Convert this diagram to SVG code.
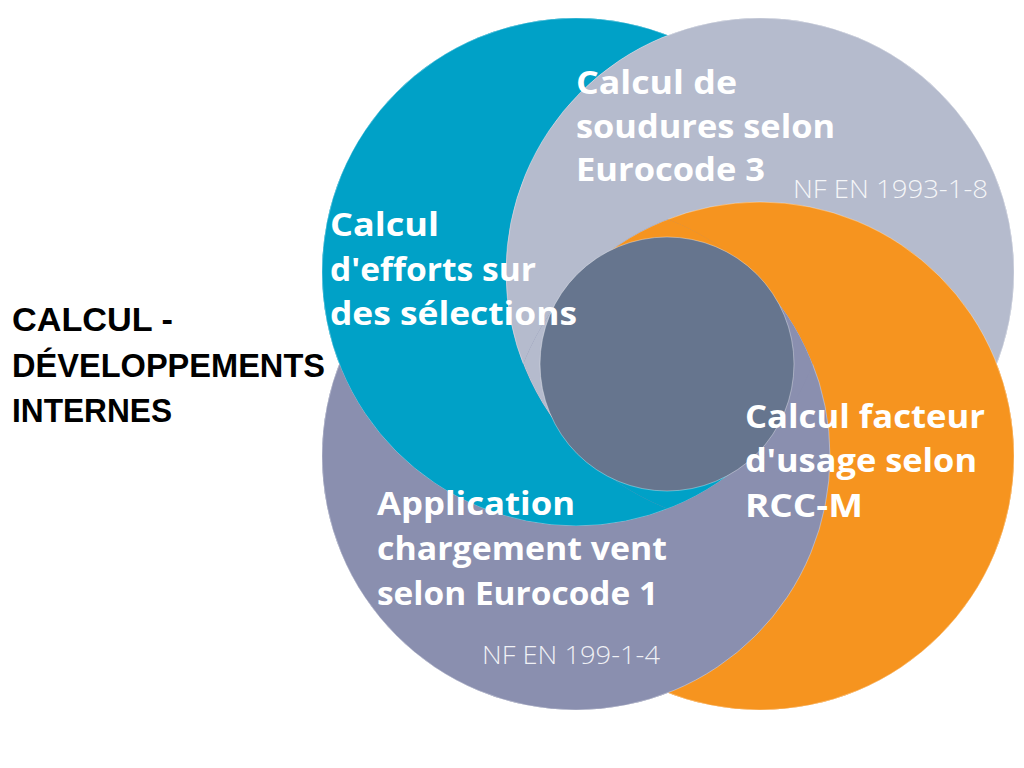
<svg xmlns="http://www.w3.org/2000/svg" width="1024" height="768" viewBox="0 0 1024 768">
  <style>
    .c { stroke: #ffffff; stroke-opacity: 0.35; stroke-width: 1; }
    .blue { fill: #00A1C7; }
    .gray { fill: #B5BBCD; }
    .orange { fill: #F6941F; }
    .purple { fill: #8A8FAF; }
    .w { font-family: "Open Sans", "Liberation Sans", sans-serif; font-weight: 700; font-size: 32px; fill: #ffffff; }
    .nf { font-family: "Open Sans", "Liberation Sans", sans-serif; font-weight: 300; font-size: 26px; fill: #ffffff; fill-opacity: 0.88; }
    .title { font-family: "Liberation Sans", "Open Sans", sans-serif; font-weight: 700; font-size: 33px; fill: #000000; }
  </style>
  <defs>
    <clipPath id="notBlue"><path clip-rule="evenodd" d="M0 0H1024V768H0Z M322 272 a254 254 0 1 0 508 0 a254 254 0 1 0 -508 0Z"/></clipPath>
    <clipPath id="notGray"><path clip-rule="evenodd" d="M0 0H1024V768H0Z M506 272 a254 254 0 1 0 508 0 a254 254 0 1 0 -508 0Z"/></clipPath>
    <clipPath id="notOrange"><path clip-rule="evenodd" d="M0 0H1024V768H0Z M506 456 a254 254 0 1 0 508 0 a254 254 0 1 0 -508 0Z"/></clipPath>
    <clipPath id="notPurple"><path clip-rule="evenodd" d="M0 0H1024V768H0Z M322 456 a254 254 0 1 0 508 0 a254 254 0 1 0 -508 0Z"/></clipPath>
    <clipPath id="inBlue"><circle cx="576" cy="272" r="254"/></clipPath>
    <clipPath id="inGray"><circle cx="760" cy="272" r="254"/></clipPath>
    <clipPath id="inOrange"><circle cx="760" cy="456" r="254"/></clipPath>
    <clipPath id="inPurple"><circle cx="576" cy="456" r="254"/></clipPath>
    <clipPath id="wedgeTop"><polygon points="667,364 167,-136 1167,-136"/></clipPath>
    <clipPath id="wedgeRight"><polygon points="667,364 1167,-136 1167,864"/></clipPath>
    <clipPath id="wedgeBottom"><polygon points="667,364 1167,864 167,864"/></clipPath>
    <clipPath id="wedgeLeft"><polygon points="667,364 167,864 167,-136"/></clipPath>
  </defs>
  <rect width="1024" height="768" fill="#ffffff"/>

  <g id="circles">
    <g id="base">
      <circle class="blue" cx="576" cy="272" r="254"/>
      <circle class="gray" cx="760" cy="272" r="254"/>
      <circle class="orange" cx="760" cy="456" r="254"/>
      <circle class="purple" cx="576" cy="456" r="254"/>
    </g>
    <g id="core-overlap" clip-path="url(#inBlue)">
      <g clip-path="url(#inGray)">
        <g clip-path="url(#inOrange)">
          <g clip-path="url(#inPurple)">
            <circle class="c orange" cx="760" cy="456" r="254" clip-path="url(#wedgeTop)"/>
            <circle class="c purple" cx="576" cy="456" r="254" clip-path="url(#wedgeRight)"/>
            <circle class="c blue" cx="576" cy="272" r="254" clip-path="url(#wedgeBottom)"/>
            <circle class="c gray" cx="760" cy="272" r="254" clip-path="url(#wedgeLeft)"/>
          </g>
        </g>
      </g>
    </g>
    <circle id="blue-circle" class="c blue" cx="576" cy="272" r="254" clip-path="url(#notGray)"/>
    <circle id="gray-circle" class="c gray" cx="760" cy="272" r="254" clip-path="url(#notOrange)"/>
    <circle id="orange-circle" class="c orange" cx="760" cy="456" r="254" clip-path="url(#notPurple)"/>
    <circle id="purple-circle" class="c purple" cx="576" cy="456" r="254" clip-path="url(#notBlue)"/>
    <circle id="center-circle" class="c" cx="667" cy="364" r="127" fill="#66758E"/>
  </g>

  <g id="title">
    <text class="title" x="12" y="331" textLength="161" lengthAdjust="spacingAndGlyphs">CALCUL -</text>
    <text class="title" x="12" y="377" textLength="313" lengthAdjust="spacingAndGlyphs">DÉVELOPPEMENTS</text>
    <text class="title" x="12" y="422" textLength="160" lengthAdjust="spacingAndGlyphs">INTERNES</text>
  </g>

  <g id="node-efforts">
    <text class="w" x="330" y="236" textLength="109" lengthAdjust="spacingAndGlyphs">Calcul</text>
    <text class="w" x="330" y="281" textLength="206" lengthAdjust="spacingAndGlyphs">d'efforts sur</text>
    <text class="w" x="330" y="325" textLength="247" lengthAdjust="spacingAndGlyphs">des sélections</text>
  </g>

  <g id="node-soudures">
    <text class="w" x="576" y="94" textLength="161" lengthAdjust="spacingAndGlyphs">Calcul de</text>
    <text class="w" x="576" y="138" textLength="259" lengthAdjust="spacingAndGlyphs">soudures selon</text>
    <text class="w" x="576" y="181" textLength="189" lengthAdjust="spacingAndGlyphs">Eurocode 3</text>
    <text class="nf" x="793" y="198" textLength="195" lengthAdjust="spacingAndGlyphs">NF EN 1993-1-8</text>
  </g>

  <g id="node-facteur">
    <text class="w" x="745" y="428" textLength="240" lengthAdjust="spacingAndGlyphs">Calcul facteur</text>
    <text class="w" x="745" y="472" textLength="232" lengthAdjust="spacingAndGlyphs">d'usage selon</text>
    <text class="w" x="745" y="517" textLength="118" lengthAdjust="spacingAndGlyphs">RCC-M</text>
  </g>

  <g id="node-vent">
    <text class="w" x="377" y="515" textLength="198" lengthAdjust="spacingAndGlyphs">Application</text>
    <text class="w" x="377" y="560" textLength="290" lengthAdjust="spacingAndGlyphs">chargement vent</text>
    <text class="w" x="377" y="605" textLength="281" lengthAdjust="spacingAndGlyphs">selon Eurocode 1</text>
    <text class="nf" x="482" y="664" textLength="178" lengthAdjust="spacingAndGlyphs">NF EN 199-1-4</text>
  </g>

  <g id="connectors"></g>
</svg>
